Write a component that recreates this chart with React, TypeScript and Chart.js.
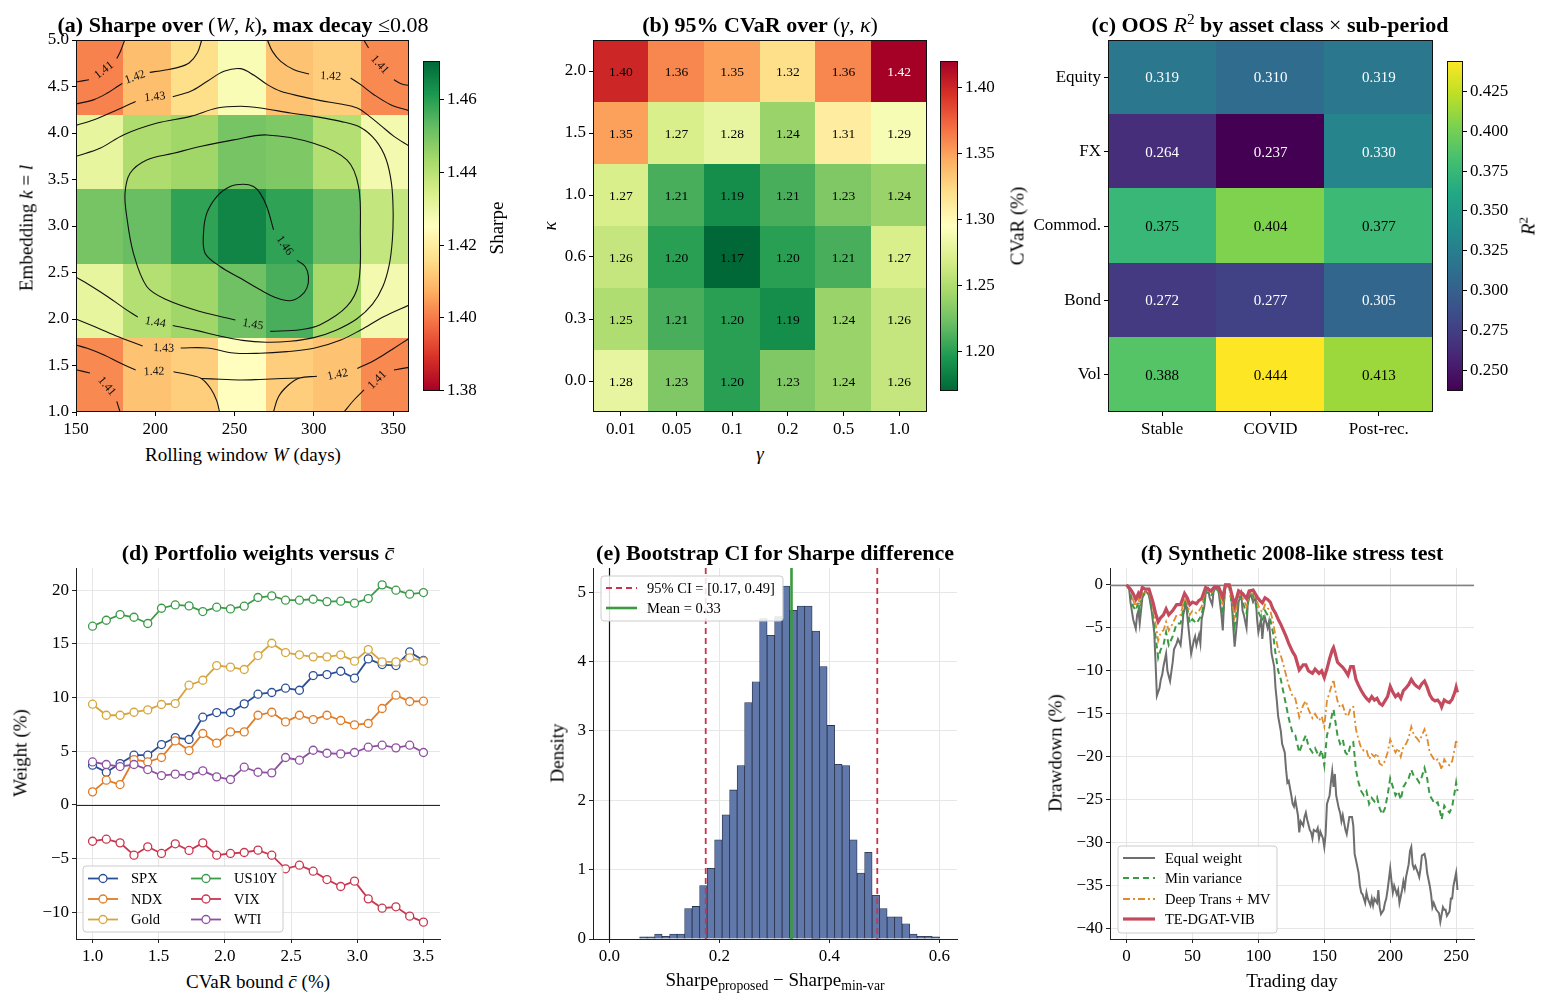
import React, { useEffect, useRef } from "react";
import { Chart, registerables } from "chart.js";

Chart.register(...registerables);

type Pt = [number, number];
type Rect = { L: number; T: number; R: number; B: number };

const SERIF = '"Liberation Serif", "Times New Roman", Times, serif';
const TICK_FONT = { family: SERIF, size: 17 };
const LEGEND_PX = 14.5;

/* ================= (a) Sharpe over (W, k) ================= */
const sharpeWEdges = [150, 180, 210, 240, 270, 300, 330, 360];
const sharpeKEdges = [1.0, 1.8, 2.6, 3.4, 4.2, 5.0];
const sharpeK1 = [1.402, 1.411, 1.413, 1.425, 1.413, 1.411, 1.402];
const sharpeK2 = [1.431, 1.441, 1.444, 1.451, 1.456, 1.443, 1.428];
const sharpeK3 = [1.450, 1.452, 1.459, 1.465, 1.459, 1.452, 1.438];
const sharpeK4 = [1.431, 1.442, 1.444, 1.450, 1.449, 1.441, 1.428];
const sharpeK5 = [1.401, 1.410, 1.416, 1.427, 1.411, 1.413, 1.402];
const sharpeColorRange = [1.38, 1.4705];
const sharpeXTicks = [150, 200, 250, 300, 350];
const sharpeYTicks = [1.0, 1.5, 2.0, 2.5, 3.0, 3.5, 4.0, 4.5, 5.0];
const sharpeCbTicks = [1.38, 1.4, 1.42, 1.44, 1.46];

const contour141: Pt[][] = [
  [[150, 4.548], [158.2, 4.573]],
  [[175.7, 4.8], [178.2, 4.885], [180.7, 5.0]],
  [[331.5, 5.0], [334.5, 4.914]],
  [[350.5, 4.573], [355, 4.53], [360, 4.509]],
  [[150, 1.455], [158.8, 1.419]],
  [[175.7, 1.115], [177.8, 1.0]],
  [[319, 1.0], [325.3, 1.129], [331.6, 1.237]],
  [[350.5, 1.452], [360, 1.48]],
];
const contour142: Pt[][] = [
  [[150, 4.312], [161.4, 4.359], [169.8, 4.43], [176.1, 4.5], [179.2, 4.534]],
  [[196.5, 4.652], [205.5, 4.675], [213.9, 4.703], [221.3, 4.753], [226.5, 4.86], [229.3, 5.0]],
  [[270.7, 5.0], [273.9, 4.878], [279.1, 4.771], [287.5, 4.681], [297, 4.634]],
  [[323.2, 4.591], [329.5, 4.52], [337.9, 4.412], [348.4, 4.305], [360, 4.24]],
  [[150, 1.72], [157.1, 1.685], [167.7, 1.613], [178.2, 1.523], [187.6, 1.452]],
  [[211.5, 1.432], [221, 1.4], [229, 1.36], [235, 1.25], [238.8, 1.12], [240.5, 1.0]],
  [[229, 1.36], [241, 1.352], [254, 1.344], [266, 1.35], [280, 1.36], [291, 1.365]],
  [[274.5, 1.0], [277.7, 1.165], [284, 1.29], [291, 1.365], [302, 1.385]],
  [[327.4, 1.469], [336, 1.535], [342.1, 1.595], [350, 1.68], [360, 1.79]],
];
const contour143: Pt[][] = [
  [[150, 4.082], [161.4, 4.143], [176.1, 4.251], [187.6, 4.34]],
  [[211, 4.39], [222.3, 4.448], [232.8, 4.556], [243.3, 4.663], [253.8, 4.692], [262.3, 4.62], [270.7, 4.52], [279.1, 4.448], [291.7, 4.394], [304.3, 4.348], [316.9, 4.312], [327.4, 4.269], [333.7, 4.197], [342.1, 4.082], [350.5, 3.964], [360, 3.86]],
  [[150, 2.0], [160, 1.93], [175, 1.82], [192, 1.71]],
  [[216, 1.688], [232.5, 1.688], [249.3, 1.634], [266, 1.631], [283, 1.649], [300, 1.685], [317, 1.774], [329.5, 1.882], [344, 2.025], [360, 2.15]],
];
const contour144: Pt[][] = [
  [[150, 3.749], [165.5, 3.839], [180.2, 3.982], [201.2, 4.107], [222.3, 4.179], [239.1, 4.269], [253.8, 4.287], [266.4, 4.269], [285.3, 4.215], [300, 4.179], [316.9, 4.125], [329.5, 4.06], [339, 3.92], [345.5, 3.72], [349, 3.45], [350, 3.15], [349.5, 2.85], [347.5, 2.58], [343.5, 2.35], [337, 2.16], [327, 2.0], [314, 1.88], [300, 1.8], [285, 1.76], [270, 1.75], [255, 1.77], [240, 1.82], [225, 1.88], [211, 1.93]],
  [[189, 2.02], [180, 2.12], [170, 2.24], [160, 2.35], [150, 2.45]],
];
const contour145: Pt[][] = [
  [[272.5, 1.867], [291.4, 1.884], [304, 1.938], [320.8, 2.135], [328.2, 2.386], [329.3, 2.923], [328.2, 3.424], [320.8, 3.711], [299.8, 3.89], [270.3, 3.979], [249.3, 3.926], [228.3, 3.854], [211.4, 3.782], [194.6, 3.711], [184.1, 3.568], [180.9, 3.353], [182, 3.102], [186.2, 2.708], [194.6, 2.35], [207.2, 2.207], [228.3, 2.081], [250.5, 1.99]],
];
const contour146: Pt[][] = [
  [[274.6, 2.959], [270.3, 3.209], [266.1, 3.353], [261.9, 3.424], [255.6, 3.449], [247.2, 3.424], [238.8, 3.317], [232.5, 3.138], [230.4, 2.923], [231.4, 2.708], [240.9, 2.565], [253.5, 2.44], [266.1, 2.314], [276.7, 2.225], [285.1, 2.196], [291.4, 2.243], [295.6, 2.332], [296.6, 2.457], [294.5, 2.565], [289.3, 2.63]],
];
const contourLabelText = ["1.41", "1.41", "1.41", "1.41", "1.42", "1.42", "1.42", "1.42", "1.43", "1.43", "1.44", "1.45", "1.46"];
const contourLabelW = [167.7, 341.4, 169.4, 340.0, 187.2, 310.6, 199.2, 315.0, 199.8, 205.3, 200.0, 261.5, 281.5];
const contourLabelK = [4.674, 4.735, 1.276, 1.344, 4.599, 4.609, 1.434, 1.4, 4.387, 1.685, 1.963, 1.94, 2.79];
const contourLabelAngle = [-38, 48, 50, -45, -20, 3, -2, -12, -6, 2, 10, 10, 55];

/* ================= (b) 95% CVaR over (gamma, kappa) ================= */
const gammaLabels = ["0.01", "0.05", "0.1", "0.2", "0.5", "1.0"];
const kappaLabels = ["0.0", "0.3", "0.6", "1.0", "1.5", "2.0"];
const cvarK00 = [1.28, 1.23, 1.2, 1.23, 1.24, 1.26];
const cvarK03 = [1.25, 1.21, 1.2, 1.19, 1.24, 1.26];
const cvarK06 = [1.26, 1.2, 1.17, 1.2, 1.21, 1.27];
const cvarK10 = [1.27, 1.21, 1.19, 1.21, 1.23, 1.24];
const cvarK15 = [1.35, 1.27, 1.28, 1.24, 1.31, 1.29];
const cvarK20 = [1.4, 1.36, 1.35, 1.32, 1.36, 1.42];
const cvarColorRange = [1.17, 1.42];
const cvarCbTicks = [1.2, 1.25, 1.3, 1.35, 1.4];

/* ================= (c) OOS R^2 ================= */
const r2Periods = ["Stable", "COVID", "Post-rec."];
const r2Assets = ["Equity", "FX", "Commod.", "Bond", "Vol"];
const r2Equity = [0.319, 0.31, 0.319];
const r2FX = [0.264, 0.237, 0.33];
const r2Commod = [0.375, 0.404, 0.377];
const r2Bond = [0.272, 0.277, 0.305];
const r2Vol = [0.388, 0.444, 0.413];
const r2ColorRange = [0.237, 0.444];
const r2CbTicks = [0.25, 0.275, 0.3, 0.325, 0.35, 0.375, 0.4, 0.425];

/* ================= (d) Portfolio weights ================= */
const cbarGrid = [1.0, 1.104, 1.208, 1.313, 1.417, 1.521, 1.625, 1.729, 1.833, 1.938, 2.042, 2.146, 2.25, 2.354, 2.458, 2.563, 2.667, 2.771, 2.875, 2.979, 3.083, 3.188, 3.292, 3.396, 3.5];
const wSPX = [3.7, 3.04, 3.85, 4.63, 4.63, 5.62, 6.27, 6.09, 8.17, 8.6, 8.6, 9.41, 10.31, 10.47, 10.87, 10.68, 12.05, 12.14, 12.45, 11.8, 13.6, 13.07, 12.98, 14.25, 13.45];
const wNDX = [1.21, 2.3, 1.89, 4.22, 4.0, 4.41, 5.96, 5.06, 6.65, 5.75, 6.8, 6.8, 8.35, 8.63, 7.73, 8.35, 7.95, 8.35, 7.86, 7.45, 7.58, 8.98, 10.22, 9.63, 9.66];
const wGold = [9.38, 8.35, 8.35, 8.63, 8.85, 9.35, 9.44, 11.15, 11.61, 12.98, 12.83, 12.61, 13.91, 15.06, 14.19, 13.98, 13.79, 13.79, 13.98, 13.39, 14.47, 13.32, 13.32, 13.7, 13.39];
const wUS10Y = [16.65, 17.2, 17.73, 17.48, 16.9, 18.32, 18.63, 18.54, 18.01, 18.42, 18.26, 18.51, 19.32, 19.47, 19.07, 19.07, 19.16, 18.94, 18.98, 18.79, 19.22, 20.5, 20.0, 19.63, 19.78];
const wVIX = [-3.39, -3.2, -3.54, -4.69, -3.91, -4.53, -3.63, -4.25, -3.54, -4.69, -4.53, -4.44, -4.22, -4.69, -5.96, -5.62, -6.18, -6.96, -7.61, -7.11, -8.76, -9.63, -9.5, -10.37, -10.93];
const wWTI = [4.0, 3.76, 3.57, 3.76, 3.29, 2.73, 2.86, 2.73, 3.17, 2.61, 2.36, 3.51, 3.04, 2.98, 4.41, 4.16, 5.09, 4.81, 4.75, 4.88, 5.37, 5.56, 5.31, 5.56, 4.88];
const weightNames = ["SPX", "NDX", "Gold", "US10Y", "VIX", "WTI"];
const weightXTicks = [1.0, 1.5, 2.0, 2.5, 3.0, 3.5];
const weightYTicks = [-10, -5, 0, 5, 10, 15, 20];

/* ================= (e) Bootstrap histogram ================= */
const histStart = 0.0548;
const histBinWidth = 0.01364;
const histDensity = [0.03, 0.03, 0.07, 0.04, 0.07, 0.07, 0.44, 0.47, 0.77, 1.02, 1.43, 1.79, 2.15, 2.5, 3.41, 3.71, 4.62, 4.38, 4.65, 5.09, 4.74, 4.8, 4.8, 4.44, 3.93, 3.08, 2.52, 2.5, 1.43, 0.95, 1.25, 0.63, 0.44, 0.32, 0.32, 0.22, 0.07, 0.04, 0.04, 0.03];
const ciBounds = [0.175, 0.487];
const ciLabels = ["0.17", "0.49"];
const meanDiff = 0.331;
const zeroDiff = 0.0;
const histXTicks = [0.0, 0.2, 0.4, 0.6];
const histYTicks = [0, 1, 2, 3, 4, 5];

/* ================= (f) Stress-test drawdowns ================= */
const ewDays = [0, 2, 3, 5, 7, 8, 9, 10, 12, 14, 15, 17, 19, 21, 22, 23, 25, 26, 27, 28, 30, 31, 33, 35, 36, 38, 39, 41, 42, 43, 45, 46, 47, 49, 51, 52, 53, 55, 56, 57, 59, 60, 62, 63, 65, 66, 67, 69, 70, 72, 73, 74, 75, 77, 79, 80, 81, 82, 84, 85, 87, 88, 89, 91, 92, 94, 96, 98, 99, 100, 102, 103, 104, 105, 107, 108, 109, 110, 112, 113, 114, 115, 117, 118, 120, 121, 122, 123, 125, 126, 127, 128, 130, 131, 132, 134, 135, 136, 137, 139, 140, 141, 142, 144, 145, 146, 147, 149, 150, 151, 152, 154, 155, 156, 157, 158, 159, 161, 162, 163, 164, 166, 167, 168, 169, 171, 172, 173, 174, 176, 177, 178, 179, 181, 182, 183, 185, 186, 187, 188, 190, 191, 192, 193, 195, 196, 197, 198, 200, 201, 202, 203, 205, 206, 207, 209, 210, 211, 212, 214, 215, 216, 217, 218, 219, 221, 222, 223, 224, 226, 227, 228, 230, 231, 232, 233, 235, 236, 237, 238, 240, 241, 242, 243, 245, 246, 247, 248, 250, 251];
const ddEqual = [0, -0.5, -2, -4, -5.1, -3.5, -3, -4.5, -1.5, -0.8, -0.8, -1.2, -3, -5.5, -9, -12.9, -12, -11, -10.5, -9.5, -8, -10, -11.2, -9, -7.5, -6.8, -6.3, -7, -5.5, -3.5, -2, -3.5, -5, -8, -6.5, -6, -7, -5.8, -6.8, -4, -2.5, -1, -0.5, -1.5, -2.3, -0.8, -0.5, -0.3, -1, -3.5, -5.3, -2, 0, 0, -0.5, -2.5, -5, -7.2, -4, -2, -1, -3, -3.5, -5, -2, -1, -2, -1.5, -4, -5.5, -4, -6.3, -4.5, -3.8, -5, -4.3, -6, -8, -9.5, -12, -13.5, -15.3, -17, -18.5, -19.5, -21.5, -23, -22.8, -24.5, -25.5, -25.8, -25, -26.8, -28.8, -27.5, -28, -27, -26.5, -27.3, -28.5, -28.8, -29.5, -28.5, -28.7, -28.3, -29.5, -28.7, -29.5, -30.5, -29, -25.5, -24.5, -23, -21.7, -23.5, -22, -24.5, -26, -26.5, -27.5, -26.8, -28.5, -29, -28, -27, -27, -28, -31.3, -32, -33.5, -35, -35.8, -36, -37, -35.8, -36.5, -37.3, -36.5, -37.3, -36.5, -37, -35.5, -37.5, -38.3, -37.8, -37, -36.5, -35.5, -33, -34.5, -35.8, -35, -36, -35.5, -37, -35.5, -34.5, -35.3, -34, -32.5, -31, -30.5, -32.5, -33, -32.7, -33.5, -34, -33, -31.5, -31.3, -32, -33.5, -35, -36, -37.5, -37, -37.8, -38, -38.2, -39.2, -37.5, -37.8, -37.8, -38.5, -38, -36.5, -36.5, -35, -33.5, -35.5];
const strategyDays = [0, 3, 5, 7, 9, 10, 12, 14, 17, 20, 22, 24, 26, 28, 30, 32, 35, 38, 41, 44, 46, 48, 50, 53, 55, 57, 60, 64, 67, 70, 73, 75, 78, 82, 85, 88, 91, 93, 96, 99, 101, 103, 105, 107, 109, 111, 113, 115, 117, 119, 121, 123, 126, 128, 131, 134, 136, 138, 141, 143, 146, 148, 150, 152, 154, 156, 157, 158, 160, 162, 164, 166, 168, 170, 172, 174, 176, 178, 180, 182, 184, 186, 188, 190, 192, 194, 196, 198, 200, 202, 204, 206, 208, 210, 212, 214, 216, 218, 220, 222, 224, 226, 228, 230, 232, 234, 236, 238, 239, 241, 243, 245, 247, 249, 250, 251];
const ddMinVar = [0, -0.8, -2.5, -3, -2, -3, -1, -1.2, -1, -3.5, -6, -8.5, -7.5, -7, -5.5, -7, -6, -4.5, -4.5, -2, -2.5, -4.5, -4, -4.5, -4, -3.5, -0.7, -1.3, -0.4, -0.7, -3.5, 0, -0.3, -4.8, -1.3, -2, -3.3, -1.3, -1.2, -2.8, -3.5, -4.2, -3, -3.5, -4, -5.5, -8, -10, -11, -12.5, -14, -15.5, -17.3, -17.5, -19.5, -18.2, -17.5, -18.8, -19.5, -19, -20, -19.2, -21, -17.5, -16.5, -15, -14.5, -15.5, -17.5, -18.5, -18, -19.5, -19.8, -18.5, -18.3, -21.5, -23, -24, -24.5, -24, -25.5, -24.8, -25.2, -24.7, -26, -26.7, -26, -24.5, -22.5, -23.5, -24.5, -24, -25, -23.5, -23, -22.5, -21.5, -22.3, -22.5, -23, -22.3, -21.3, -22.5, -24.5, -25, -25.5, -25.3, -26.5, -27.3, -25.7, -26.2, -26.5, -25.8, -24, -23, -24];
const ddDeepTrans = [0, -0.6, -1.8, -2.5, -1.5, -2.3, -0.8, -0.9, -0.8, -2.5, -4.5, -6.5, -5.5, -5.3, -4.3, -5.3, -4.5, -3.5, -3.5, -1.5, -2, -3.5, -3, -3.3, -3, -2.5, -0.5, -1, -0.3, -0.5, -2.5, 0, -0.2, -3.7, -1, -1.5, -2.5, -1, -1, -2, -2.8, -3.2, -2.3, -2.7, -3, -4.2, -6, -7.5, -8.2, -9.3, -10.5, -11.7, -13, -13.2, -15.4, -14, -13.5, -14.5, -15.5, -15, -15.8, -15.3, -16.5, -13.5, -12.5, -11.5, -11, -12, -13.5, -14.3, -14, -15, -15.3, -14.3, -14.2, -16.8, -18, -19, -19.3, -19.2, -20.3, -19.7, -20, -19.6, -20.8, -21, -20.5, -19.5, -18, -18.8, -19.5, -19, -20, -18.8, -18.5, -17.8, -16.5, -17.5, -17.8, -18.2, -17.5, -16.8, -17.8, -19.5, -20, -20.5, -20.3, -21, -21.5, -20.3, -20.8, -21, -20.5, -19, -18, -18.8];
const ddTEDGAT = [0, -0.5, -1, -1.7, -1, -1.3, -0.3, -0.5, -0.5, -2, -3.3, -4.3, -3.8, -3.5, -2.8, -3.5, -3, -2.3, -2.3, -1, -1.5, -2.3, -2, -2.2, -1.8, -1.6, -0.3, -0.7, -0.2, -0.3, -1.5, 0, 0, -2.4, -0.7, -1, -1.6, -0.7, -0.6, -1.4, -1.8, -2.1, -1.5, -1.7, -2, -2.8, -3.3, -4, -4.6, -5.3, -6, -6.8, -7.8, -8.3, -9.9, -9.3, -9.3, -10, -10.3, -9.8, -10.3, -10, -10.8, -9.8, -8.6, -7.6, -7.3, -7.8, -9, -9.3, -9.6, -10, -10.5, -9.5, -9.5, -11, -11.7, -12.3, -12.8, -13.2, -13.5, -13, -13.4, -13.2, -13.8, -14, -13.5, -13, -11.8, -12.5, -13, -12.7, -13.2, -12.3, -12, -11.6, -11, -11.5, -11.8, -12, -11.5, -11.2, -11.9, -12.8, -13.3, -13.5, -13.4, -13.8, -14.2, -13.4, -13.6, -13.7, -13.3, -12.5, -11.9, -12.5];
const strategyNames = ["Equal weight", "Min variance", "Deep Trans + MV", "TE-DGAT-VIB"];
const ddXTicks = [0, 50, 100, 150, 200, 250];
const ddYTicks = [0, -5, -10, -15, -20, -25, -30, -35, -40];

/* ================= styles & layout ================= */
const RDYLGN = ["#a50026", "#d73027", "#f46d43", "#fdae61", "#fee08b", "#ffffbf", "#d9ef8b", "#a6d96a", "#66bd63", "#1a9850", "#006837"];
const VIRIDIS = ["#440154", "#482475", "#414487", "#355f8d", "#2a788e", "#21918c", "#22a884", "#44bf70", "#7ad151", "#bddf26", "#fde725"];
const weightColors = ["#2b4f96", "#e07b24", "#d6a63e", "#3b9a48", "#c9364e", "#8e50a0"];
const ddColors = ["#6e6e6e", "#3c9a45", "#e08b2e", "#c44b5d"];

const PAD_T = 15;
const PAD_R = 15;
const CB_PAD = 10;
const CB_AXIS = 58;
const A_RECT: Rect = { L: 76, T: 40, R: 409, B: 412 };
const A_CB: Rect = { L: 423, T: 58, R: 440, B: 394 };
const B_RECT: Rect = { L: 593, T: 40, R: 927, B: 412 };
const B_CB: Rect = { L: 940, T: 58, R: 958, B: 394 };
const C_RECT: Rect = { L: 1108, T: 40, R: 1433, B: 412 };
const C_CB: Rect = { L: 1447, T: 58, R: 1463, B: 394 };
const D_RECT: Rect = { L: 76, T: 568, R: 440, B: 939 };
const E_RECT: Rect = { L: 593, T: 568, R: 957, B: 939 };
const F_RECT: Rect = { L: 1110, T: 568, R: 1474, B: 939 };

/* ================= helpers ================= */
function hexRgb(h: string) {
  const n = parseInt(h.slice(1), 16);
  return [(n >> 16) & 255, (n >> 8) & 255, n & 255];
}
function makeCmap(stops: string[]) {
  const rgb = stops.map(hexRgb);
  return (t: number) => {
    const u = Math.min(1, Math.max(0, t)) * (rgb.length - 1);
    const i = Math.min(rgb.length - 2, Math.floor(u));
    const f = u - i;
    const a = rgb[i];
    const b = rgb[i + 1];
    return `rgb(${Math.round(a[0] + (b[0] - a[0]) * f)},${Math.round(a[1] + (b[1] - a[1]) * f)},${Math.round(a[2] + (b[2] - a[2]) * f)})`;
  };
}
const rdylgn = makeCmap(RDYLGN);
const rdylgnR = (t: number) => rdylgn(1 - t);
const viridis = makeCmap(VIRIDIS);

const minus = (v: number) => (v < 0 ? "\u2212" + String(Math.abs(v)) : String(v));

function panelBox(r: Rect, padL: number, padB: number) {
  return { x: r.L - padL, y: r.T - PAD_T, w: r.R - r.L + padL + PAD_R, h: r.B - r.T + PAD_T + padB };
}
function cbBox(r: Rect) {
  return { x: r.L, y: r.T - CB_PAD, w: r.R - r.L + CB_AXIS, h: r.B - r.T + 2 * CB_PAD };
}

function baseOptions() {
  return {
    responsive: false,
    maintainAspectRatio: false,
    animation: false,
    devicePixelRatio: 1,
    events: [],
    layout: { padding: { left: 0, top: PAD_T, right: PAD_R, bottom: 0 } },
    plugins: { legend: { display: false }, tooltip: { enabled: false }, title: { display: false } },
  };
}

const fixedTicks = (values: number[]) => (scale: any) => {
  scale.ticks = values.map((v) => ({ value: v }));
};

function heatAxis(min: number, max: number, ticks: number[], fmt: (v: number) => string, fit: (s: any) => void, extra: any = {}) {
  return {
    type: "linear",
    min,
    max,
    afterFit: fit,
    afterBuildTicks: fixedTicks(ticks),
    ticks: { font: TICK_FONT, color: "#000", padding: 3, autoSkip: false, maxRotation: 0, callback: (v: any) => fmt(Number(v)) },
    grid: { display: true, drawOnChartArea: false, drawTicks: true, tickLength: 4, tickColor: "#000", tickWidth: 1 },
    border: { display: false },
    ...extra,
  };
}

function plotAxis(min: number, max: number, ticks: number[], fmt: (v: number) => string, fit: (s: any) => void, extra: any = {}) {
  return {
    type: "linear",
    min,
    max,
    afterFit: fit,
    afterBuildTicks: fixedTicks(ticks),
    ticks: { font: TICK_FONT, color: "#000", padding: 3, autoSkip: false, maxRotation: 0, callback: (v: any) => fmt(Number(v)) },
    grid: { display: true, color: "#e6e6e6", lineWidth: 1, drawTicks: true, tickLength: 4, tickColor: "#222", tickWidth: 1 },
    border: { display: true, color: "#222", width: 1 },
    ...extra,
  };
}

function strokeFrame(ctx: any, ca: any) {
  ctx.save();
  ctx.strokeStyle = "#111";
  ctx.lineWidth = 1;
  ctx.strokeRect(Math.round(ca.left) + 0.5, Math.round(ca.top) + 0.5, Math.round(ca.right - ca.left) - 1, Math.round(ca.bottom - ca.top) - 1);
  ctx.restore();
}

type Cell = { x0: number; x1: number; y0: number; y1: number; color: string; text?: string; textColor?: string };

function heatPlugin(cells: Cell[], textSize: number) {
  return {
    id: "heat",
    beforeDatasetsDraw(chart: any) {
      const { ctx, chartArea: ca } = chart;
      const xs = chart.scales.x;
      const ys = chart.scales.y;
      ctx.save();
      ctx.beginPath();
      ctx.rect(ca.left, ca.top, ca.right - ca.left, ca.bottom - ca.top);
      ctx.clip();
      for (const c of cells) {
        const xa = xs.getPixelForValue(c.x0);
        const xb = xs.getPixelForValue(c.x1);
        const ya = ys.getPixelForValue(c.y0);
        const yb = ys.getPixelForValue(c.y1);
        const l = Math.floor(Math.min(xa, xb));
        const r = Math.ceil(Math.max(xa, xb));
        const t = Math.floor(Math.min(ya, yb));
        const b = Math.ceil(Math.max(ya, yb));
        ctx.fillStyle = c.color;
        ctx.fillRect(l, t, r - l, b - t);
      }
      ctx.font = `${textSize}px ${SERIF}`;
      ctx.textAlign = "center";
      ctx.textBaseline = "middle";
      for (const c of cells) {
        if (!c.text) continue;
        const cx = (xs.getPixelForValue(c.x0) + xs.getPixelForValue(c.x1)) / 2;
        const cy = (ys.getPixelForValue(c.y0) + ys.getPixelForValue(c.y1)) / 2;
        ctx.fillStyle = c.textColor || "#000";
        ctx.fillText(c.text, cx, cy + 1);
      }
      ctx.restore();
    },
    afterDatasetsDraw(chart: any) {
      strokeFrame(chart.ctx, chart.chartArea);
    },
  };
}

const contourLabelPlugin = {
  id: "clabels",
  afterDatasetsDraw(chart: any) {
    const { ctx } = chart;
    const xs = chart.scales.x;
    const ys = chart.scales.y;
    ctx.save();
    ctx.font = `12px ${SERIF}`;
    ctx.fillStyle = "#111";
    ctx.textAlign = "center";
    ctx.textBaseline = "middle";
    contourLabelText.forEach((t, i) => {
      ctx.save();
      ctx.translate(xs.getPixelForValue(contourLabelW[i]), ys.getPixelForValue(contourLabelK[i]));
      ctx.rotate((contourLabelAngle[i] * Math.PI) / 180);
      ctx.fillText(t, 0, 0);
      ctx.restore();
    });
    ctx.restore();
  },
};

function colorbarConfig(min: number, max: number, ticks: number[], fmt: (v: number) => string, cmap: (t: number) => string) {
  return {
    type: "scatter",
    data: { datasets: [] },
    options: {
      ...baseOptions(),
      layout: { padding: { left: 0, right: 0, top: CB_PAD, bottom: CB_PAD } },
      scales: {
        x: { type: "linear", display: false, min: 0, max: 1 },
        y: {
          type: "linear",
          position: "right",
          min,
          max,
          afterFit: (s: any) => {
            s.width = CB_AXIS;
          },
          afterBuildTicks: fixedTicks(ticks),
          ticks: { font: TICK_FONT, color: "#000", padding: 3, autoSkip: false, callback: (v: any) => fmt(Number(v)) },
          grid: { display: true, drawOnChartArea: false, drawTicks: true, tickLength: 4, tickColor: "#000" },
          border: { display: false },
        },
      },
    },
    plugins: [
      {
        id: "cbgrad",
        beforeDatasetsDraw(chart: any) {
          const { ctx, chartArea: ca } = chart;
          const ys = chart.scales.y;
          ctx.save();
          for (let py = Math.floor(ca.top); py < Math.ceil(ca.bottom); py++) {
            const v = ys.getValueForPixel(py + 0.5);
            ctx.fillStyle = cmap((v - min) / (max - min));
            ctx.fillRect(ca.left, py, ca.right - ca.left, 1);
          }
          ctx.restore();
          strokeFrame(ctx, ca);
        },
      },
    ],
  };
}

function drawLegendFrame(ctx: any, x: number, y: number, w: number, h: number) {
  const r = 3;
  ctx.save();
  ctx.beginPath();
  ctx.moveTo(x + r, y);
  ctx.lineTo(x + w - r, y);
  ctx.arcTo(x + w, y, x + w, y + r, r);
  ctx.lineTo(x + w, y + h - r);
  ctx.arcTo(x + w, y + h, x + w - r, y + h, r);
  ctx.lineTo(x + r, y + h);
  ctx.arcTo(x, y + h, x, y + h - r, r);
  ctx.lineTo(x, y + r);
  ctx.arcTo(x, y, x + r, y, r);
  ctx.closePath();
  ctx.fillStyle = "rgba(255,255,255,0.85)";
  ctx.fill();
  ctx.strokeStyle = "#cccccc";
  ctx.lineWidth = 1;
  ctx.stroke();
  ctx.restore();
}

function hLine(chart: any, v: number, color: string, width: number) {
  const { ctx, chartArea: ca } = chart;
  const py = Math.round(chart.scales.y.getPixelForValue(v)) + 0.5;
  ctx.save();
  ctx.strokeStyle = color;
  ctx.lineWidth = width;
  ctx.beginPath();
  ctx.moveTo(ca.left, py);
  ctx.lineTo(ca.right, py);
  ctx.stroke();
  ctx.restore();
}

/* ================= chart builders ================= */
function buildSharpe(padL: number, padB: number) {
  const rows = [sharpeK1, sharpeK2, sharpeK3, sharpeK4, sharpeK5];
  const [lo, hi] = sharpeColorRange;
  const cells: Cell[] = [];
  rows.forEach((row, r) =>
    row.forEach((v, c) =>
      cells.push({ x0: sharpeWEdges[c], x1: sharpeWEdges[c + 1], y0: sharpeKEdges[r], y1: sharpeKEdges[r + 1], color: rdylgn((v - lo) / (hi - lo)) })
    )
  );
  const segs = [...contour141, ...contour142, ...contour143, ...contour144, ...contour145, ...contour146];
  return {
    type: "scatter",
    data: {
      datasets: segs.map((seg) => ({
        data: seg.map(([x, y]) => ({ x, y })),
        showLine: true,
        pointRadius: 0,
        borderColor: "#111",
        borderWidth: 1.1,
        tension: 0.35,
        fill: false,
      })),
    },
    options: {
      ...baseOptions(),
      scales: {
        x: heatAxis(150, 360, sharpeXTicks, (v) => String(v), (s) => { s.height = padB; }),
        y: heatAxis(1, 5, sharpeYTicks, (v) => v.toFixed(1), (s) => { s.width = padL; }),
      },
    },
    plugins: [heatPlugin(cells, 13), contourLabelPlugin],
  };
}

function buildCvar(padL: number, padB: number) {
  const rows = [cvarK00, cvarK03, cvarK06, cvarK10, cvarK15, cvarK20];
  const [lo, hi] = cvarColorRange;
  const cells: Cell[] = [];
  rows.forEach((row, r) =>
    row.forEach((v, c) => {
      const t = (v - lo) / (hi - lo);
      cells.push({ x0: c - 0.5, x1: c + 0.5, y0: r - 0.5, y1: r + 0.5, color: rdylgnR(t), text: v.toFixed(2), textColor: t > 0.95 ? "#fff" : "#000" });
    })
  );
  return {
    type: "scatter",
    data: { datasets: [] },
    options: {
      ...baseOptions(),
      scales: {
        x: heatAxis(-0.5, 5.5, [0, 1, 2, 3, 4, 5], (v) => gammaLabels[Math.round(v)], (s) => { s.height = padB; }),
        y: heatAxis(-0.5, 5.5, [0, 1, 2, 3, 4, 5], (v) => kappaLabels[Math.round(v)], (s) => { s.width = padL; }),
      },
    },
    plugins: [heatPlugin(cells, 13.5)],
  };
}

function buildR2(padL: number, padB: number) {
  const rows = [r2Equity, r2FX, r2Commod, r2Bond, r2Vol];
  const [lo, hi] = r2ColorRange;
  const cells: Cell[] = [];
  rows.forEach((row, r) =>
    row.forEach((v, c) => {
      const t = (v - lo) / (hi - lo);
      cells.push({ x0: c - 0.5, x1: c + 0.5, y0: r - 0.5, y1: r + 0.5, color: viridis(t), text: v.toFixed(3), textColor: t < 0.5 ? "#fff" : "#000" });
    })
  );
  return {
    type: "scatter",
    data: { datasets: [] },
    options: {
      ...baseOptions(),
      scales: {
        x: heatAxis(-0.5, 2.5, [0, 1, 2], (v) => r2Periods[Math.round(v)], (s) => { s.height = padB; }),
        y: heatAxis(-0.5, 4.5, [0, 1, 2, 3, 4], (v) => r2Assets[Math.round(v)], (s) => { s.width = padL; }, { reverse: true }),
      },
    },
    plugins: [heatPlugin(cells, 15)],
  };
}

function buildWeights(padL: number, padB: number) {
  const series = [wSPX, wNDX, wGold, wUS10Y, wVIX, wWTI];
  return {
    type: "line",
    data: {
      datasets: series.map((vals, i) => ({
        label: weightNames[i],
        data: cbarGrid.map((x, j) => ({ x, y: vals[j] })),
        borderColor: weightColors[i],
        borderWidth: 1.8,
        pointRadius: 4,
        pointHoverRadius: 4,
        pointBackgroundColor: "#ffffff",
        pointBorderColor: weightColors[i],
        pointBorderWidth: 1.3,
        tension: 0,
        fill: false,
        order: series.length - i,
      })),
    },
    options: {
      ...baseOptions(),
      scales: {
        x: plotAxis(0.875, 3.625, weightXTicks, (v) => v.toFixed(1), (s) => { s.height = padB; }),
        y: plotAxis(-12.5, 22.07, weightYTicks, minus, (s) => { s.width = padL; }),
      },
    },
    plugins: [
      {
        id: "wzero",
        beforeDatasetsDraw(chart: any) {
          hLine(chart, 0, "#111", 0.9);
        },
        afterDatasetsDraw(chart: any) {
          const { ctx, chartArea: ca } = chart;
          const bx = ca.left + 7;
          const by = ca.bottom - 73;
          drawLegendFrame(ctx, bx, by, 200, 66);
          ctx.save();
          ctx.font = `${LEGEND_PX}px ${SERIF}`;
          ctx.textBaseline = "middle";
          ctx.textAlign = "left";
          weightNames.forEach((name, i) => {
            const col = i < 3 ? 0 : 1;
            const row = i % 3;
            const lx = bx + 5 + col * 103;
            const ly = by + 12.5 + row * 20.5;
            ctx.strokeStyle = weightColors[i];
            ctx.lineWidth = 1.8;
            ctx.beginPath();
            ctx.moveTo(lx, ly);
            ctx.lineTo(lx + 30, ly);
            ctx.stroke();
            ctx.beginPath();
            ctx.arc(lx + 15, ly, 4, 0, Math.PI * 2);
            ctx.fillStyle = "#fff";
            ctx.fill();
            ctx.lineWidth = 1.3;
            ctx.stroke();
            ctx.fillStyle = "#000";
            ctx.fillText(name, lx + 43, ly + 1);
          });
          ctx.restore();
        },
      },
    ],
  };
}

function buildHist(padL: number, padB: number) {
  const centers = histDensity.map((_, i) => histStart + (i + 0.5) * histBinWidth);
  return {
    type: "bar",
    data: {
      datasets: [
        {
          data: centers.map((x, i) => ({ x, y: histDensity[i] })),
          backgroundColor: "#6079aa",
          borderColor: "#27304a",
          borderWidth: 0.8,
          barPercentage: 1,
          categoryPercentage: 1,
        },
      ],
    },
    options: {
      ...baseOptions(),
      scales: {
        x: plotAxis(-0.03, 0.632, histXTicks, (v) => v.toFixed(1), (s) => { s.height = padB; }, { offset: false, grid: { display: true, offset: false, color: "#e6e6e6", lineWidth: 1, drawTicks: true, tickLength: 4, tickColor: "#222" } }),
        y: plotAxis(0, 5.35, histYTicks, (v) => String(v), (s) => { s.width = padL; }),
      },
    },
    plugins: [
      {
        id: "ci",
        afterDatasetsDraw(chart: any) {
          const { ctx, chartArea: ca } = chart;
          const xs = chart.scales.x;
          const vline = (v: number, color: string, width: number, dash: number[]) => {
            const px = xs.getPixelForValue(v);
            ctx.save();
            ctx.strokeStyle = color;
            ctx.lineWidth = width;
            ctx.setLineDash(dash);
            ctx.beginPath();
            ctx.moveTo(px, ca.top);
            ctx.lineTo(px, ca.bottom);
            ctx.stroke();
            ctx.restore();
          };
          vline(zeroDiff, "#111", 1.2, []);
          ciBounds.forEach((v) => vline(v, "#c8344c", 1.8, [6, 4]));
          vline(meanDiff, "#3a9a3f", 2.6, []);
          const bx = ca.left + 8;
          const by = ca.top + 8;
          drawLegendFrame(ctx, bx, by, 182, 45);
          ctx.save();
          ctx.font = `${LEGEND_PX}px ${SERIF}`;
          ctx.textBaseline = "middle";
          ctx.fillStyle = "#000";
          ctx.strokeStyle = "#c8344c";
          ctx.lineWidth = 1.8;
          ctx.setLineDash([6, 4]);
          ctx.beginPath();
          ctx.moveTo(bx + 5, by + 12);
          ctx.lineTo(bx + 36, by + 12);
          ctx.stroke();
          ctx.setLineDash([]);
          ctx.strokeStyle = "#3a9a3f";
          ctx.lineWidth = 2.6;
          ctx.beginPath();
          ctx.moveTo(bx + 5, by + 32);
          ctx.lineTo(bx + 36, by + 32);
          ctx.stroke();
          ctx.fillText(`95% CI = [${ciLabels[0]}, ${ciLabels[1]}]`, bx + 46, by + 13);
          ctx.fillText(`Mean = ${meanDiff.toFixed(2)}`, bx + 46, by + 33);
          ctx.restore();
        },
      },
    ],
  };
}

function buildDrawdown(padL: number, padB: number) {
  const sets = [
    { days: ewDays, vals: ddEqual, width: 2, dash: [] as number[], order: 4 },
    { days: strategyDays, vals: ddMinVar, width: 2, dash: [6, 4], order: 3 },
    { days: strategyDays, vals: ddDeepTrans, width: 1.8, dash: [7, 3, 2, 3], order: 2 },
    { days: strategyDays, vals: ddTEDGAT, width: 3.2, dash: [] as number[], order: 1 },
  ];
  return {
    type: "line",
    data: {
      datasets: sets.map((s, i) => ({
        label: strategyNames[i],
        data: s.days.map((x, j) => ({ x, y: s.vals[j] })),
        borderColor: ddColors[i],
        borderWidth: s.width,
        borderDash: s.dash,
        pointRadius: 0,
        tension: 0,
        fill: false,
        order: s.order,
      })),
    },
    options: {
      ...baseOptions(),
      scales: {
        x: plotAxis(-12.55, 263.55, ddXTicks, (v) => String(v), (s) => { s.height = padB; }),
        y: plotAxis(-41.2, 1.96, ddYTicks, minus, (s) => { s.width = padL; }),
      },
    },
    plugins: [
      {
        id: "ddextra",
        beforeDatasetsDraw(chart: any) {
          hLine(chart, 0, "#808080", 1.5);
        },
        afterDatasetsDraw(chart: any) {
          const { ctx, chartArea: ca } = chart;
          const bx = ca.left + 8;
          const by = ca.bottom - 93;
          drawLegendFrame(ctx, bx, by, 159, 87);
          ctx.save();
          ctx.font = `${LEGEND_PX}px ${SERIF}`;
          ctx.textBaseline = "middle";
          const rowsY = [12, 32, 53, 73];
          strategyNames.forEach((name, i) => {
            const s = sets[i];
            const ly = by + rowsY[i];
            ctx.strokeStyle = ddColors[i];
            ctx.lineWidth = s.width;
            ctx.setLineDash(s.dash);
            ctx.beginPath();
            ctx.moveTo(bx + 5, ly);
            ctx.lineTo(bx + 37, ly);
            ctx.stroke();
            ctx.setLineDash([]);
            ctx.fillStyle = "#000";
            ctx.fillText(name, bx + 47, ly + 1);
          });
          ctx.restore();
        },
      },
    ],
  };
}

/* ================= React components ================= */
function ChartCanvas({ box, build }: { box: { x: number; y: number; w: number; h: number }; build: () => any }) {
  const ref = useRef<HTMLCanvasElement | null>(null);
  useEffect(() => {
    if (!ref.current) return;
    const chart = new Chart(ref.current, build());
    return () => chart.destroy();
  }, []);
  return (
    <div style={{ position: "absolute", left: box.x, top: box.y, width: box.w, height: box.h }}>
      <canvas ref={ref} width={box.w} height={box.h} style={{ display: "block", width: box.w, height: box.h }} />
    </div>
  );
}

function Txt({ x, y, size = 19, bold = false, rotate = 0, children }: any) {
  return (
    <div
      style={{
        position: "absolute",
        left: x,
        top: y,
        transform: `translate(-50%, -50%)${rotate ? ` rotate(${rotate}deg)` : ""}`,
        fontFamily: SERIF,
        fontSize: size,
        fontWeight: bold ? 700 : 400,
        lineHeight: 1,
        whiteSpace: "nowrap",
        color: "#000",
      }}
    >
      {children}
    </div>
  );
}
const M = ({ children }: any) => <span style={{ fontWeight: 400 }}>{children}</span>;
const sub = { fontSize: "0.72em", verticalAlign: "-0.3em", lineHeight: 0 } as any;
const sup = { fontSize: "0.7em", verticalAlign: "0.5em", lineHeight: 0 } as any;

const PADS = { a: [70, 30], b: [60, 30], c: [90, 30], d: [60, 30], e: [60, 30], f: [60, 30] };
const TITLE_PX = 22;

export default function App() {
  return (
    <div style={{ position: "absolute", left: 0, top: 0, width: 1556, height: 1005, background: "#fff", overflow: "hidden" }}>
      <ChartCanvas box={panelBox(A_RECT, PADS.a[0], PADS.a[1])} build={() => buildSharpe(PADS.a[0], PADS.a[1])} />
      <ChartCanvas box={cbBox(A_CB)} build={() => colorbarConfig(sharpeColorRange[0], sharpeColorRange[1], sharpeCbTicks, (v) => v.toFixed(2), rdylgn)} />
      <ChartCanvas box={panelBox(B_RECT, PADS.b[0], PADS.b[1])} build={() => buildCvar(PADS.b[0], PADS.b[1])} />
      <ChartCanvas box={cbBox(B_CB)} build={() => colorbarConfig(cvarColorRange[0], cvarColorRange[1], cvarCbTicks, (v) => v.toFixed(2), rdylgnR)} />
      <ChartCanvas box={panelBox(C_RECT, PADS.c[0], PADS.c[1])} build={() => buildR2(PADS.c[0], PADS.c[1])} />
      <ChartCanvas box={cbBox(C_CB)} build={() => colorbarConfig(r2ColorRange[0], r2ColorRange[1], r2CbTicks, (v) => v.toFixed(3), viridis)} />
      <ChartCanvas box={panelBox(D_RECT, PADS.d[0], PADS.d[1])} build={() => buildWeights(PADS.d[0], PADS.d[1])} />
      <ChartCanvas box={panelBox(E_RECT, PADS.e[0], PADS.e[1])} build={() => buildHist(PADS.e[0], PADS.e[1])} />
      <ChartCanvas box={panelBox(F_RECT, PADS.f[0], PADS.f[1])} build={() => buildDrawdown(PADS.f[0], PADS.f[1])} />

      {/* titles */}
      <Txt x={243} y={25} size={TITLE_PX} bold>
        (a) Sharpe over <M>(<i>W</i>, <i>k</i>)</M>, max decay <M>≤0.08</M>
      </Txt>
      <Txt x={760} y={25} size={TITLE_PX} bold>
        (b) 95% CVaR over <M>(<i>γ</i>, <i>κ</i>)</M>
      </Txt>
      <Txt x={1270} y={25} size={TITLE_PX} bold>
        (c) OOS <M><i>R</i><span style={sup}>2</span></M> by asset class <M>×</M> sub-period
      </Txt>
      <Txt x={258} y={553} size={TITLE_PX} bold>
        (d) Portfolio weights versus <M><i>c̄</i></M>
      </Txt>
      <Txt x={775} y={553} size={TITLE_PX} bold>
        (e) Bootstrap CI for Sharpe difference
      </Txt>
      <Txt x={1292} y={553} size={TITLE_PX} bold>
        (f) Synthetic 2008-like stress test
      </Txt>

      {/* axis labels */}
      <Txt x={243} y={454}>
        Rolling window <i>W</i> (days)
      </Txt>
      <Txt x={26} y={228} rotate={-90}>
        Embedding <i>k</i> = <i>l</i>
      </Txt>
      <Txt x={496} y={228} rotate={-90}>
        Sharpe
      </Txt>
      <Txt x={760} y={453}>
        <i>γ</i>
      </Txt>
      <Txt x={549} y={226} rotate={-90}>
        <i>κ</i>
      </Txt>
      <Txt x={1017} y={226} rotate={-90}>
        CVaR (%)
      </Txt>
      <Txt x={1528} y={226} rotate={-90}>
        <i>R</i>
        <span style={sup}>2</span>
      </Txt>
      <Txt x={258} y={981}>
        CVaR bound <i>c̄</i> (%)
      </Txt>
      <Txt x={20} y={753} rotate={-90}>
        Weight (%)
      </Txt>
      <Txt x={775} y={979}>
        Sharpe<span style={sub}>proposed</span> − Sharpe<span style={sub}>min-var</span>
      </Txt>
      <Txt x={557} y={753} rotate={-90}>
        Density
      </Txt>
      <Txt x={1292} y={980}>
        Trading day
      </Txt>
      <Txt x={1055} y={753} rotate={-90}>
        Drawdown (%)
      </Txt>
    </div>
  );
}
